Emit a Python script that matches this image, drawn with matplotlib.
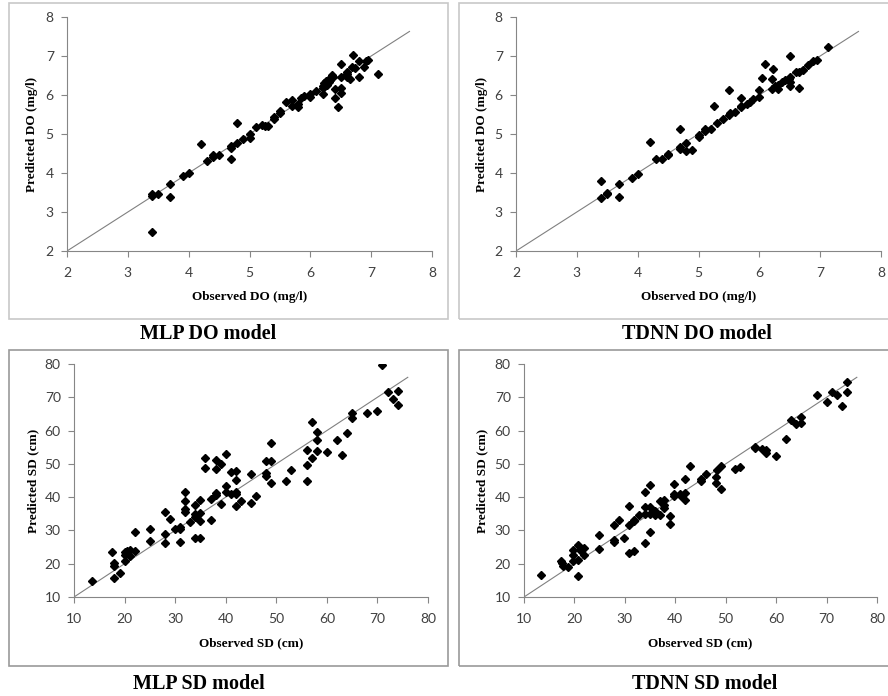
import matplotlib
matplotlib.use("Agg")
import matplotlib.pyplot as plt
from matplotlib.patches import Rectangle

# ── Data ──────────────────────────────────────────────────────────────────────

mlp_do_obs = [3.4, 3.4, 3.4, 3.5, 3.7, 3.7, 3.9, 4.0, 4.2, 4.3, 4.4, 4.4, 4.5,
              4.7, 4.7, 4.7, 4.8, 4.8, 4.9, 5.0, 5.0, 5.1, 5.2, 5.25, 5.3,
              5.4, 5.4, 5.5, 5.5, 5.6, 5.7, 5.7, 5.8, 5.8, 5.85, 5.9, 6.0,
              6.0, 6.1, 6.2, 6.2, 6.2, 6.22, 6.27, 6.3, 6.32, 6.35, 6.38,
              6.4, 6.4, 6.45, 6.5, 6.5, 6.5, 6.5, 6.6, 6.6, 6.65, 6.69, 6.7,
              6.74, 6.8, 6.8, 6.89, 6.91, 6.95, 7.12, 6.6, 6.3, 6.25]
mlp_do_pred = [3.4, 3.46, 2.49, 3.47, 3.71, 3.39, 3.92, 4.0, 4.74, 4.31, 4.45,
               4.42, 4.45, 4.7, 4.65, 4.36, 5.29, 4.78, 4.88, 4.99, 4.9, 5.17,
               5.23, 5.21, 5.2, 5.39, 5.43, 5.53, 5.59, 5.83, 5.87, 5.73,
               5.76, 5.68, 5.93, 5.98, 5.94, 6.03, 6.11, 6.03, 6.22, 6.17,
               6.3, 6.26, 6.33, 6.39, 6.52, 6.46, 6.15, 5.92, 5.68, 6.8, 6.47,
               6.19, 6.05, 6.54, 6.47, 6.41, 6.71, 7.03, 6.69, 6.86, 6.45,
               6.71, 6.86, 6.89, 6.53, 6.6, 6.4, 6.35]

tdnn_do_obs = [3.4, 3.4, 3.5, 3.5, 3.7, 3.7, 3.9, 4.0, 4.2, 4.3, 4.4, 4.5, 4.5,
               4.7, 4.7, 4.7, 4.8, 4.8, 4.9, 5.0, 5.0, 5.1, 5.1, 5.2, 5.26,
               5.3, 5.4, 5.5, 5.5, 5.52, 5.6, 5.7, 5.7, 5.7, 5.8, 5.85, 5.9,
               6.0, 6.0, 6.05, 6.1, 6.2, 6.2, 6.23, 6.25, 6.31, 6.31, 6.37,
               6.42, 6.48, 6.51, 6.51, 6.51, 6.51, 6.6, 6.66, 6.66, 6.71,
               6.8, 6.89, 6.94, 7.13]
tdnn_do_pred = [3.8, 3.35, 3.49, 3.46, 3.73, 3.39, 3.88, 3.97, 4.8, 4.37,
                4.37, 4.46, 4.5, 5.13, 4.67, 4.61, 4.78, 4.56, 4.59, 4.97,
                4.93, 5.14, 5.08, 5.14, 5.72, 5.27, 5.38, 5.49, 6.12, 5.53,
                5.57, 5.68, 5.92, 5.73, 5.78, 5.83, 5.89, 5.95, 6.12, 6.43,
                6.8, 6.4, 6.15, 6.67, 6.23, 6.26, 6.15, 6.34, 6.39, 6.41,
                6.99, 6.47, 6.22, 6.34, 6.58, 6.19, 6.6, 6.64, 6.76, 6.86,
                6.9, 7.24]

mlp_sd_obs = [13.5, 17.5, 18, 18, 18, 19, 20, 20, 20, 20.5, 21, 21, 22, 22,
              25, 25, 28, 28, 28, 29, 30, 31, 31, 31, 32, 32, 32, 32, 33, 34,
              34, 34, 34, 35, 35, 35, 35, 36, 36, 37, 37, 38, 38, 38, 38, 39,
              39, 40, 40, 40, 41, 41, 42, 42, 42, 42, 42, 43, 45, 45, 46, 48,
              48, 48, 49, 49, 49, 52, 53, 56, 56, 56, 57, 57, 58, 58, 58, 60,
              62, 63, 64, 65, 65, 68, 70, 71, 72, 73, 74, 74]
mlp_sd_pred = [14.7, 23.4, 20.2, 19.2, 15.8, 17.2, 20.8, 22.5, 23.4, 23.8,
               24.2, 22.2, 23.8, 29.6, 30.5, 26.9, 35.5, 28.9, 26.2, 33.3,
               30.5, 31.1, 30.3, 26.5, 41.4, 38.9, 36.3, 35.6, 32.6, 37.6,
               34.9, 34.1, 27.7, 39.1, 35.1, 32.8, 27.8, 51.8, 48.8, 39.3,
               33.1, 51.1, 48.4, 41.1, 40.5, 50.1, 37.8, 52.9, 43.3, 41.6,
               47.6, 40.8, 47.9, 45.1, 41.6, 40.8, 37.4, 38.8, 47.0, 38.1,
               40.3, 50.9, 47.3, 46.3, 50.9, 56.3, 44.1, 44.9, 48.1, 54.3,
               49.6, 44.9, 62.5, 51.7, 59.6, 57.1, 53.9, 53.6, 57.1, 52.8,
               59.4, 65.2, 63.7, 65.2, 66.0, 79.6, 71.7, 69.4, 71.9, 67.6]

tdnn_sd_obs = [13.4, 17.3, 17.5, 17.8, 18.8, 19.8, 19.8, 19.8, 20.8, 20.8,
               20.8, 21.2, 21.8, 21.8, 24.8, 24.8, 27.8, 27.8, 27.8, 28.8,
               29.9, 30.9, 30.9, 30.9, 31.9, 31.9, 31.9, 32.9, 33.9, 33.9,
               33.9, 33.9, 34.9, 34.9, 34.9, 34.9, 35.9, 35.9, 36.9, 36.9,
               37.8, 37.8, 37.8, 38.9, 38.9, 39.8, 39.8, 39.8, 40.9, 41.2,
               41.9, 42.0, 42.0, 43.0, 45.0, 45.0, 46.0, 48.0, 48.0, 48.2,
               49.0, 49.0, 51.9, 52.9, 55.9, 55.9, 57.1, 58.0, 58.0, 59.9,
               61.9, 63.0, 64.0, 65.0, 65.0, 68.1, 70.0, 71.0, 72.1, 73.0,
               74.1, 74.1]
tdnn_sd_pred = [16.7, 20.9, 20.2, 19.2, 18.9, 20.7, 22.7, 24.0, 25.5, 21.0,
                16.2, 24.2, 24.7, 22.5, 28.5, 24.5, 31.7, 27.2, 26.5, 33.2,
                27.7, 37.2, 31.5, 23.2, 33.2, 32.7, 23.9, 34.7, 41.5, 36.9,
                35.0, 26.2, 43.5, 36.9, 35.0, 29.5, 35.7, 34.7, 38.7, 34.5,
                39.2, 37.7, 36.7, 34.4, 31.9, 43.9, 40.9, 40.2, 40.9, 40.2,
                41.2, 45.4, 39.2, 49.5, 45.4, 44.7, 47.0, 46.0, 44.2, 48.2,
                49.4, 42.5, 48.5, 49.0, 55.2, 54.7, 54.5, 54.2, 53.2, 52.4,
                57.5, 63.3, 62.1, 64.1, 62.3, 70.8, 68.6, 71.6, 70.8, 67.3,
                74.6, 71.6]

do_ticks = [2, 3, 4, 5, 6, 7, 8]
sd_ticks = [10, 20, 30, 40, 50, 60, 70, 80]
do_line = [2, 7.63]
sd_line = [10, 76]

W, H = 888, 696


def px_axes(fig, x0, y0, x1, y1):
    """Add axes using pixel coords (top-left origin)."""
    return fig.add_axes([x0 / W, 1 - y1 / H, (x1 - x0) / W, (y1 - y0) / H])


def px_box(fig, x0, y0, x1, y1, color):
    fig.patches.append(Rectangle((x0 / W, 1 - y1 / H), (x1 - x0) / W,
                                 (y1 - y0) / H, transform=fig.transFigure,
                                 fill=False, edgecolor=color, linewidth=1.2))


def draw_panel(ax, obs, pred, ticks, line, xlabel, ylabel, ylab_gap):
    ax.plot(line, line, color="#808080", linewidth=0.8, zorder=1)
    ax.plot(obs, pred, linestyle="none", marker="D", markersize=4.2,
            color="black", zorder=2)
    ax.set_xlim(ticks[0], ticks[-1])
    ax.set_ylim(ticks[0], ticks[-1])
    ax.set_xticks(ticks)
    ax.set_yticks(ticks)
    for side in ("top", "right"):
        ax.spines[side].set_visible(False)
    for side in ("left", "bottom"):
        ax.spines[side].set_color("#868686")
        ax.spines[side].set_linewidth(0.8)
    ax.tick_params(direction="out", length=4, width=0.8, color="#868686",
                   labelsize=10, labelcolor="#404040")
    ax.tick_params(axis="y", pad=5.5)
    ax.tick_params(axis="x", pad=7.5)
    for lab in ax.get_xticklabels() + ax.get_yticklabels():
        lab.set_family("Lato")
    ax.set_xlabel(xlabel, family="Liberation Serif", fontweight="bold",
                  fontsize=9.5, va="center")
    ax.set_ylabel(ylabel, family="Liberation Serif", fontweight="bold",
                  fontsize=9.5, va="center")
    bb = ax.get_position()
    w_px, h_px = bb.width * W, bb.height * H
    ax.xaxis.set_label_coords(0.5, -46 / h_px)
    ax.yaxis.set_label_coords(-ylab_gap / w_px, 0.5)


fig = plt.figure(figsize=(W / 100, H / 100), dpi=100)

# panel frames
px_box(fig, 9, 3, 448, 319, "#c8c8c8")
px_box(fig, 459, 3, 890, 319, "#c8c8c8")
px_box(fig, 9, 350, 448, 666, "#9a9a9a")
px_box(fig, 459, 350, 890, 666, "#9a9a9a")

ax1 = px_axes(fig, 67, 17, 432, 251)
draw_panel(ax1, mlp_do_obs, mlp_do_pred, do_ticks, do_line,
           "Observed DO (mg/l)", "Predicted DO (mg/l)", 35)
ax2 = px_axes(fig, 516, 17, 881, 251)
draw_panel(ax2, tdnn_do_obs, tdnn_do_pred, do_ticks, do_line,
           "Observed DO (mg/l)", "Predicted DO (mg/l)", 34)
ax3 = px_axes(fig, 74, 364, 428, 597)
draw_panel(ax3, mlp_sd_obs, mlp_sd_pred, sd_ticks, sd_line,
           "Observed SD (cm)", "Predicted SD (cm)", 41)
ax4 = px_axes(fig, 524, 364, 877, 597)
draw_panel(ax4, tdnn_sd_obs, tdnn_sd_pred, sd_ticks, sd_line,
           "Observed SD (cm)", "Predicted SD (cm)", 42)

# captions under each panel
titles = ["MLP DO model", "TDNN DO model", "MLP SD model", "TDNN SD model"]
title_pos = [(208, 334), (697, 334), (199, 684), (705, 684)]
for t, (x, y) in zip(titles, title_pos):
    fig.text(x / W, 1 - y / H, t, ha="center", va="center",
             family="Liberation Serif", fontweight="bold", fontsize=14.5)

fig.savefig("out.png", dpi=100)
